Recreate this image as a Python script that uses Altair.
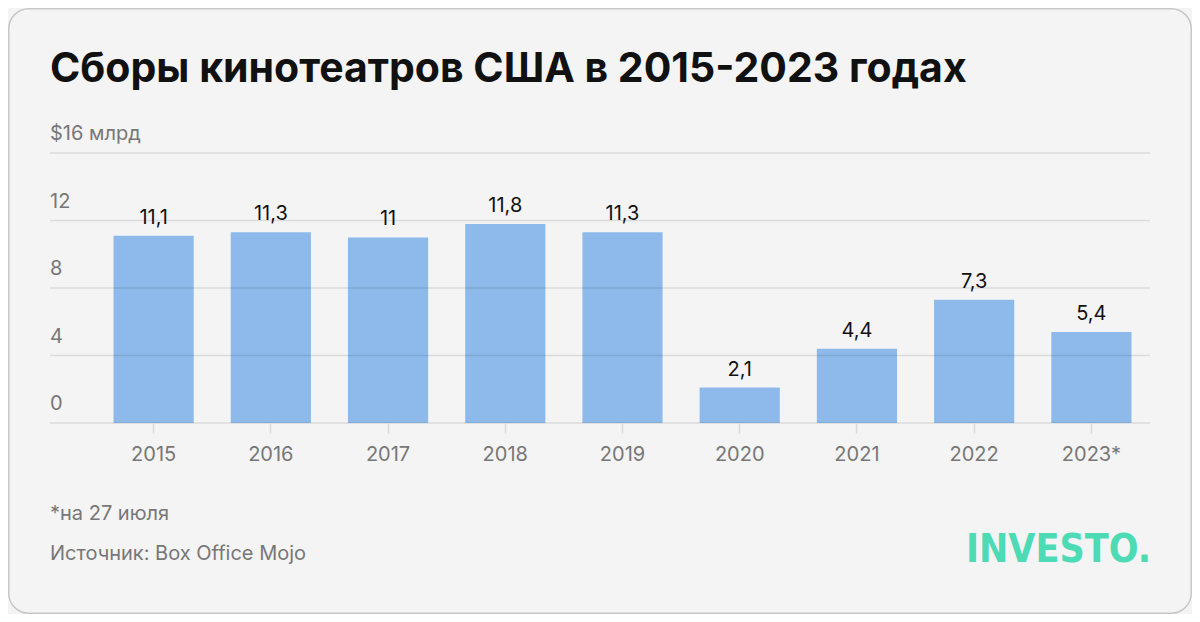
import altair as alt
import pandas as pd

years = ["2015", "2016", "2017", "2018", "2019", "2020", "2021", "2022", "2023*"]
values = [11.1, 11.3, 11.0, 11.8, 11.3, 2.1, 4.4, 7.3, 5.4]
value_labels = ["11,1", "11,3", "11", "11,8", "11,3", "2,1", "4,4", "7,3", "5,4"]
grid_values = [0, 4, 8, 12, 16]
grid_labels = ["0", "4", "8", "12", "$16 млрд"]
title_text = "Сборы кинотеатров США в 2015-2023 годах"
note_text = "*на 27 июля"
source_text = "Источник: Box Office Mojo"
logo_text = "INVESTO."

W, H = 1055, 270
PAD_L, PAD_T, PAD_R, PAD_B = 87, 145, 42, 191
FONT = "Inter"
GRAY = "#777777"

df = pd.DataFrame({"year": years, "value": values, "label": value_labels})
grid_df = pd.DataFrame({"v": grid_values, "label": grid_labels})
one = pd.DataFrame({"k": [0]})

x_axis = alt.Axis(title=None, labelAngle=0, labelFontSize=20, labelColor=GRAY,
                  labelFont=FONT, tickColor="#dadada", tickSize=10, tickWidth=1.5,
                  domain=False, grid=False, labelPadding=11, zindex=1)
x_scale = alt.Scale(paddingInner=0.316, paddingOuter=0.158)
y_scale = alt.Scale(domain=[0, 16], nice=False, zero=True)

frame = alt.Chart(one).mark_rect(
    fill="#f4f4f4", fillOpacity=0, stroke="#c8c8c8", strokeWidth=1.5, cornerRadius=20
).encode(
    x=alt.value(-PAD_L + 0.75), x2=alt.value(W + PAD_R - 0.75),
    y=alt.value(-PAD_T + 0.75), y2=alt.value(H + PAD_B - 0.75)
)

bars = alt.Chart(df).mark_bar(color="#8dbaea").encode(
    x=alt.X("year:N", sort=years, scale=x_scale, axis=x_axis),
    y=alt.Y("value:Q", scale=y_scale, axis=None),
)

value_text = alt.Chart(df).mark_text(
    baseline="alphabetic", dy=-12, fontSize=20, color="#111111", font=FONT
).encode(
    x=alt.X("year:N", sort=years, scale=x_scale, axis=x_axis),
    y=alt.Y("value:Q", scale=y_scale, axis=None),
    text="label:N",
)

grid = alt.Chart(grid_df).mark_rule(color="#000000", opacity=0.1, strokeWidth=1.5).encode(
    y=alt.Y("v:Q", scale=y_scale, axis=None),
    x=alt.value(-45), x2=alt.value(W),
)

grid_text = alt.Chart(grid_df).mark_text(
    align="left", baseline="alphabetic", dy=-13, fontSize=20, color=GRAY, font=FONT
).encode(
    y=alt.Y("v:Q", scale=y_scale, axis=None),
    x=alt.value(-45),
    text="label:N",
)

title = alt.Chart(one).mark_text(
    align="left", baseline="alphabetic", fontSize=41, fontWeight="bold", color="#111111", font=FONT
).encode(x=alt.value(-45), y=alt.value(-71), text=alt.value(title_text))

note = alt.Chart(one).mark_text(
    align="left", baseline="alphabetic", fontSize=20, color=GRAY, font=FONT
).encode(x=alt.value(-45), y=alt.value(367), text=alt.value(note_text))

source = alt.Chart(one).mark_text(
    align="left", baseline="alphabetic", fontSize=20, color=GRAY, font=FONT
).encode(x=alt.value(-45), y=alt.value(407), text=alt.value(source_text))

logo = alt.Chart(one).mark_text(
    align="right", baseline="alphabetic", fontSize=39, fontWeight="bold", color="#4ddbb5",
    font="Liberation Sans Narrow, DejaVu Sans Condensed, Roboto"
).encode(x=alt.value(1056), y=alt.value(409), text=alt.value(logo_text))

chart = alt.layer(frame, bars, grid, value_text, grid_text, title, note, source, logo).properties(
    width=W, height=H,
    autosize=alt.AutoSizeParams(type="none"),
    padding={"left": PAD_L, "top": PAD_T, "right": PAD_R, "bottom": PAD_B},
    background="#f4f4f4",
).configure_view(stroke=None)

chart.save("out.html", embed_options={"renderer": "svg", "actions": False})
